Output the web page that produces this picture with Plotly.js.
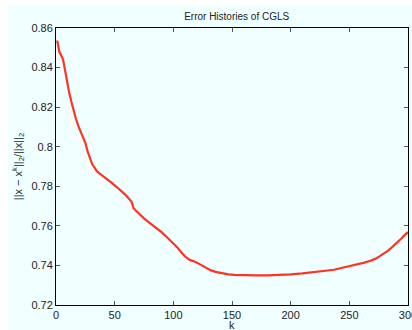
<!DOCTYPE html>
<html>
<head>
<meta charset="utf-8">
<script src="https://cdn.plot.ly/plotly-3.0.1.min.js"></script>
<style>
  html, body { margin: 0; padding: 0; background: #ffffff; overflow: hidden; width: 412px; height: 330px; }
  #chart { position: absolute; left: 8px; top: 5px; width: 412px; height: 325px; }
</style>
</head>
<body>
<div id="chart"></div>
<script>
// Iteration numbers k
const iterations = [1, 2, 3, 5, 6, 7, 9, 11, 13, 15, 17, 19, 21, 23, 25, 27, 29, 31, 33, 35, 37, 40, 43, 47,
  51, 55, 59, 62, 64, 65, 66, 68, 71, 75, 80, 85, 90, 95, 100, 104, 107, 110, 114, 118, 122, 127, 132,
  137, 142, 147, 152, 160, 170, 180, 190, 200, 210, 220, 230, 237, 244, 250, 256, 262, 268, 272, 276,
  280, 283, 286, 289, 292, 295, 297, 299, 300];

// Relative error ||x - x^k||_2 / ||x||_2
const relError = [0.8537, 0.8500, 0.8477, 0.8455, 0.8440, 0.8410, 0.8340, 0.8280, 0.8230, 0.8180, 0.8140,
  0.8105, 0.8078, 0.8055, 0.8020, 0.7975, 0.7937, 0.7910, 0.7893, 0.7875, 0.7865, 0.7852, 0.7840, 0.7820,
  0.7800, 0.7780, 0.7758, 0.7738, 0.7725, 0.7712, 0.7690, 0.7678, 0.7660, 0.7638, 0.7614, 0.7592, 0.7568,
  0.7540, 0.7512, 0.7487, 0.7465, 0.7445, 0.7428, 0.7420, 0.7408, 0.7393, 0.7375, 0.7366, 0.7360, 0.7355,
  0.7352, 0.7350, 0.7350, 0.7350, 0.7352, 0.7355, 0.7360, 0.7366, 0.7372, 0.7378, 0.7388, 0.7396, 0.7405,
  0.7413, 0.7424, 0.7433, 0.7447, 0.7462, 0.7475, 0.7490, 0.7505, 0.7523, 0.7540, 0.7553, 0.7565, 0.7568];

const xTicks = [0, 50, 100, 150, 200, 250, 300];
const yTicks = [0.72, 0.74, 0.76, 0.78, 0.8, 0.82, 0.84, 0.86];
const yTickText = ['0.72', '0.74', '0.76', '0.78', '0.8', '0.82', '0.84', '0.86'];

const fontFamily = 'Liberation Sans, Arial, Helvetica, sans-serif';
const textColor = '#222222';
const bg = '#f0ffff';

const axisCommon = {
  showline: true, linecolor: '#000000', linewidth: 1,
  mirror: 'allticks', ticks: 'inside', ticklen: 4, tickwidth: 1, tickcolor: '#555555',
  showgrid: false, zeroline: false,
  tickfont: { family: fontFamily, size: 11, color: textColor }
};

Plotly.newPlot('chart', [{
  x: iterations,
  y: relError,
  type: 'scatter',
  mode: 'lines',
  line: { color: '#ff3322', width: 2.2, shape: 'linear' },
  hoverinfo: 'skip'
}], {
  width: 412, height: 325,
  margin: { l: 48, r: 12, t: 23, b: 25 },
  paper_bgcolor: bg, plot_bgcolor: bg,
  showlegend: false,
  title: { text: 'Error Histories of CGLS', font: { family: fontFamily, size: 10, color: textColor },
           x: 0.555, xanchor: 'center', y: 0.975, yanchor: 'top' },
  xaxis: Object.assign({}, axisCommon, { range: [0, 300], tickvals: xTicks }),
  yaxis: Object.assign({}, axisCommon, {
    range: [0.72, 0.86], tickvals: yTicks, ticktext: yTickText,
    title: { text: '||x − x<sup>k</sup>||<sub>2</sub>/||x||<sub>2</sub>',
             font: { family: fontFamily, size: 11, color: textColor }, standoff: 6 }
  }),
  // x-axis label placed just under the tick labels
  annotations: [{
    text: 'k', xref: 'paper', yref: 'paper', x: 0.5, y: 0,
    xanchor: 'center', yanchor: 'top', yshift: -12, showarrow: false,
    font: { family: fontFamily, size: 11, color: textColor }
  }]
}, { staticPlot: true, displayModeBar: false });
</script>
</body>
</html>
